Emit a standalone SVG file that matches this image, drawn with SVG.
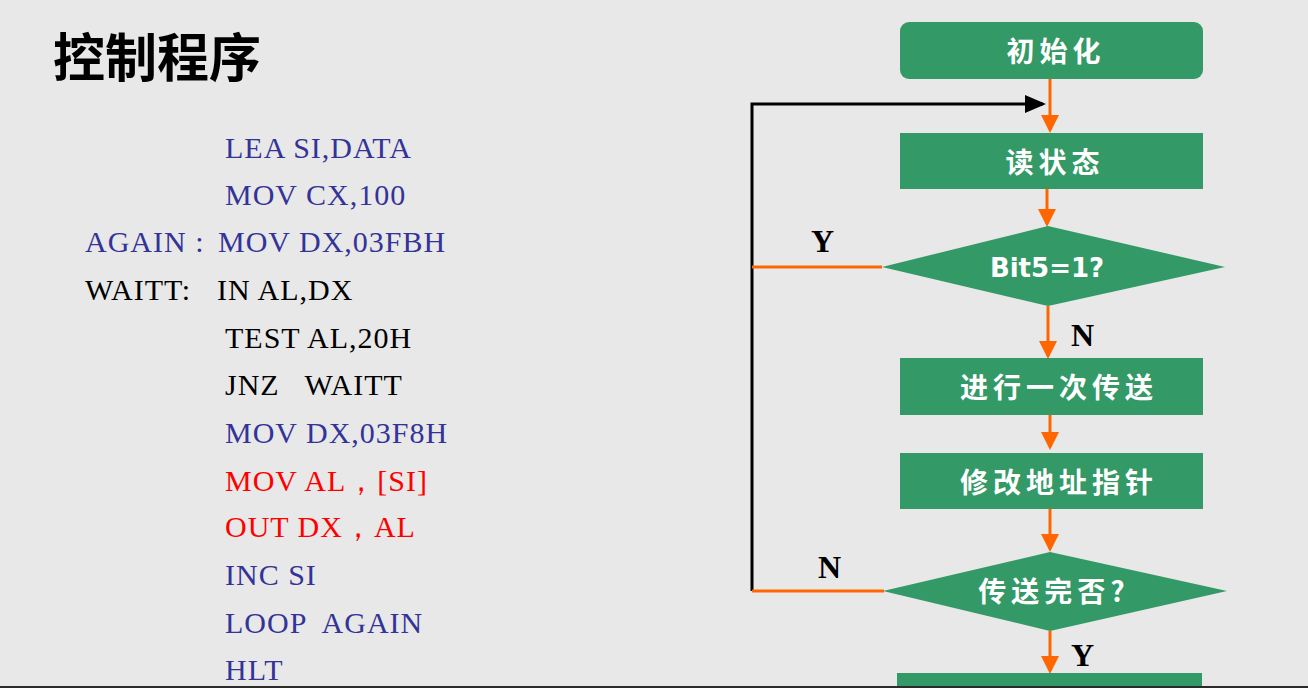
<svg xmlns="http://www.w3.org/2000/svg" width="1308" height="688" viewBox="0 0 1308 688">
<defs>
<style>
.code{font-family:"Liberation Serif","Times New Roman",serif;font-size:30px;letter-spacing:1px;white-space:pre}
.b{fill:#333399}.k{fill:#000}.r{fill:#ff0000}
.box{fill:#339966}
.lbl{font-family:"Noto Sans CJK SC",sans-serif;font-weight:bold;font-size:28px;fill:#fff;text-anchor:middle;letter-spacing:5px}
.yn{font-family:"Liberation Serif",serif;font-weight:bold;font-size:32px;fill:#000}
.or{stroke:#ff6600;stroke-width:3;fill:none}
.bk{stroke:#000;stroke-width:3;fill:none}
</style>
<marker id="ao" markerWidth="6" markerHeight="6" refX="5" refY="3" orient="auto" markerUnits="strokeWidth"><path d="M0,0 L6,3 L0,6 Z" fill="#ff6600"/></marker>
<marker id="ab" markerWidth="7" markerHeight="6" refX="6" refY="3" orient="auto" markerUnits="strokeWidth"><path d="M0,0 L7,3 L0,6 Z" fill="#000"/></marker>
</defs>
<rect width="1308" height="688" fill="#e8e8e8"/>
<text x="53" y="77" font-family="Noto Sans CJK SC,sans-serif" font-weight="bold" font-size="52" fill="#000">控制程序</text>
<g id="code">
<text class="code b" x="225" y="158">LEA SI,DATA</text>
<text class="code b" x="225" y="205">MOV CX,100</text>
<text class="code b" x="85" y="252">AGAIN :</text>
<text class="code b" x="218" y="252">MOV DX,03FBH</text>
<text class="code k" x="85" y="300">WAITT:</text>
<text class="code k" x="217" y="300">IN AL,DX</text>
<text class="code k" x="225" y="348">TEST AL,20H</text>
<text class="code k" x="225" y="395" xml:space="preserve">JNZ   WAITT</text>
<text class="code b" x="225" y="443">MOV DX,03F8H</text>
<text class="code r" x="225" y="491">MOV AL，[SI]</text>
<text class="code r" x="225" y="537">OUT DX，AL</text>
<text class="code b" x="225" y="585">INC SI</text>
<text class="code b" x="225" y="633" xml:space="preserve">LOOP  AGAIN</text>
<text class="code b" x="225" y="680">HLT</text>
</g>
<g id="connectors">
<path class="or" d="M1050,79 V130" marker-end="url(#ao)"/>
<path class="bk" d="M752,591 V104 H1043" marker-end="url(#ab)"/>
<path class="or" d="M1047,189 V224" marker-end="url(#ao)"/>
<path class="or" d="M752,267 H882"/>
<path class="or" d="M1048,306 V356" marker-end="url(#ao)"/>
<path class="or" d="M1050,415 V447" marker-end="url(#ao)"/>
<path class="or" d="M1050,509 V549" marker-end="url(#ao)"/>
<path class="or" d="M752,591 H884"/>
<path class="or" d="M1050,631 V671" marker-end="url(#ao)"/>
<text class="yn" x="811" y="252">Y</text>
<text class="yn" x="1071" y="346">N</text>
<text class="yn" x="818" y="578">N</text>
<text class="yn" x="1071" y="666">Y</text>
</g>
<g id="init"><rect class="box" x="900" y="22" width="303" height="57" rx="9"/><text class="lbl" x="1056" y="62">初始化</text></g>
<g id="read"><rect class="box" x="900" y="133" width="303" height="56"/><text class="lbl" x="1055" y="173">读状态</text></g>
<g id="bit5"><polygon class="box" points="882,267 1048,226 1225,267 1048,306"/><text x="1047" y="277" font-family="DejaVu Sans,Verdana,sans-serif" font-weight="bold" font-size="26" fill="#fff" text-anchor="middle">Bit5=1?</text></g>
<g id="transfer"><rect class="box" x="900" y="358" width="303" height="57"/><text class="lbl" x="1059" y="398">进行一次传送</text></g>
<g id="modify"><rect class="box" x="900" y="453" width="303" height="56"/><text class="lbl" x="1059" y="493">修改地址指针</text></g>
<g id="done"><polygon class="box" points="883,591 1050,552 1227,591 1050,631"/><text class="lbl" x="1054" y="602">传送完否?</text></g>
<g id="end"><rect class="box" x="897" y="673" width="305" height="15"/></g>
<rect x="0" y="686" width="1308" height="2" fill="#2b2b2b"/>
</svg>
